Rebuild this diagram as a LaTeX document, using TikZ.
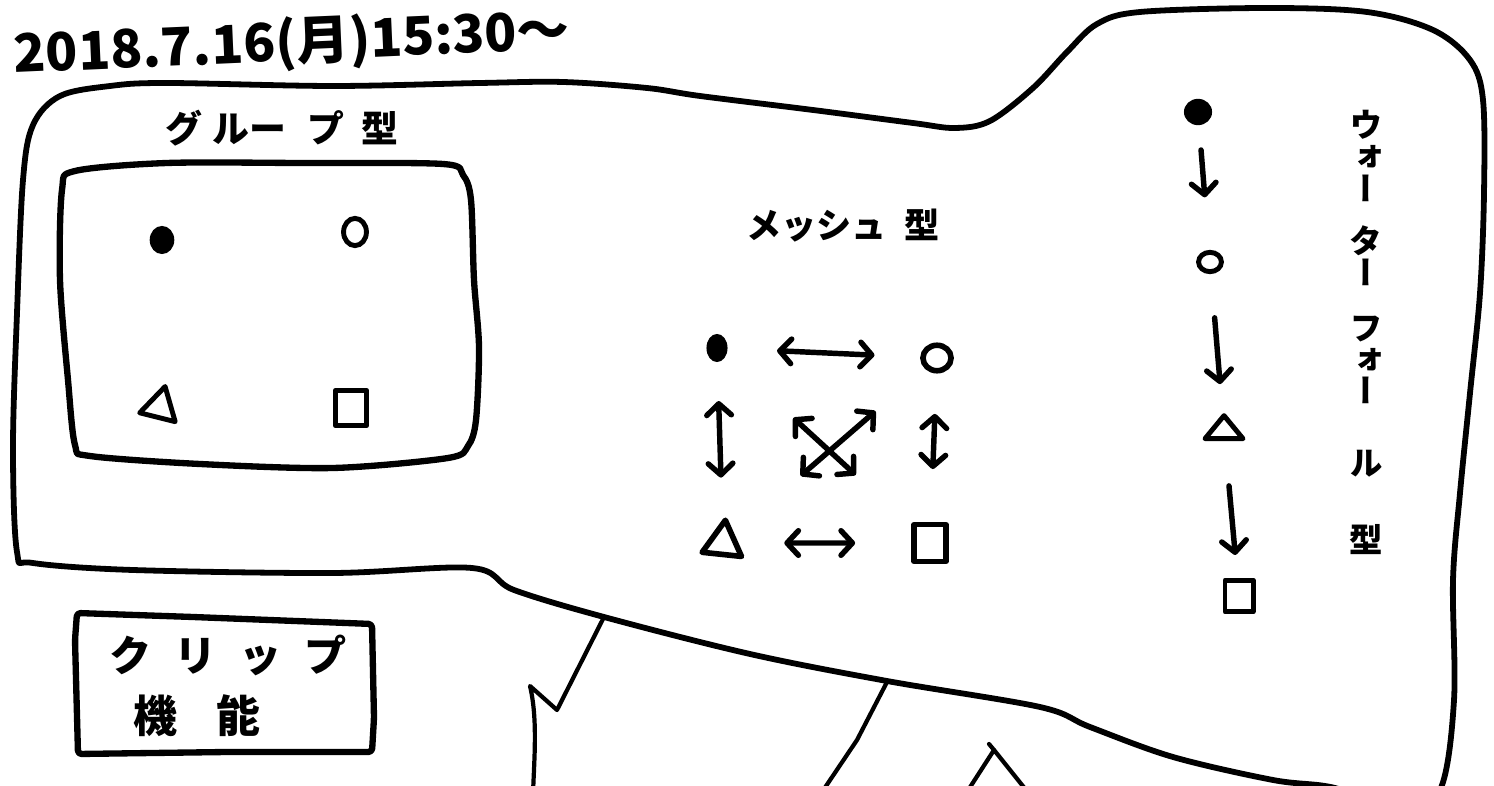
\documentclass[tikz,border=0pt]{standalone}
\usepackage{fontspec}
\usetikzlibrary{shapes.geometric,arrows.meta}
\newfontfamily\jp{Noto Sans CJK JP}
\newfontfamily\jptate[RawFeature=+vert]{Noto Sans CJK JP}

\begin{document}
\begin{tikzpicture}[x=0.02cm, y=-0.02cm,
	>={Straight Barb[length=6.5pt, width=14pt, round]},
	pen/.style={line width=3.3pt, line cap=round, line join=round},
	thinpen/.style={line width=2.4pt, line cap=round, line join=round},
	dotshape/.style={ellipse, fill, inner sep=0pt},
	ringshape/.style={ellipse, draw, line width=2.8pt, inner sep=0pt},
	trishape/.style={regular polygon, regular polygon sides=3, draw, line width=2.8pt, inner sep=0pt, line join=round},
	sqshape/.style={rectangle, draw, line width=2.8pt, inner sep=0pt, line join=round},
	link/.style={line width=3.1pt, line cap=round, <->},
	flow/.style={line width=3.1pt, line cap=round, ->}]
	\useasboundingbox (0,0) rectangle (1494,786);
	\clip (0,0) rectangle (1494,786);
	% date
	\node[font=\jp\bfseries\fontsize{30pt}{30pt}\selectfont, rotate=2.5, inner sep=0pt] (date) at (292,44) {2018.7.16(月)15:30〜};
	% outer outline
	\draw[pen] plot[smooth cycle, tension=0.55] coordinates {(60,96) (110,86) (167,83) (333,86) (480,83) (563,82) (647,88) (700,96) (813,110) (913,123) (955,128) (990,121) (1033,88) (1067,52) (1097,24) (1140,12) (1267,8) (1367,12) (1433,30) (1470,60) (1483,100) (1484,193) (1480,293) (1470,393) (1460,493) (1453,580) (1454,700) (1440,790) (1400,812) (1335,788) (1273,780) (1173,757) (1090,727) (1040,707) (887,681) (750,654) (604,617) (514,590) (472,568) (333,573) (133,570) (33,563) (17,552) (13,447) (17,313) (23,180) (33,125)};
	% legs below the outline
	\draw[thinpen] (604,617) -- (557,710) -- (530,686) .. controls (538,720) and (534,760) .. (533,795);
	\draw[thinpen] (887,682) -- (857,740) -- (820,795);
	\draw[thinpen] (965,795) -- (994,750) -- (1030,795);
	\draw[thinpen] (989,744) -- (994,750);
	% group type
	\node[font=\jp\bfseries\fontsize{21pt}{21pt}\selectfont] (gtitle) at (282,128) {グ\hspace{6pt}ルー\hspace{12pt}プ\hspace{10pt}型};
	\draw[line width=3.6pt, line join=round] plot[smooth cycle, tension=0.5] coordinates {(62,190) (75,171) (167,163) (300,163) (443,164) (463,175) (471,200) (474,280) (479,347) (476,420) (468,446) (448,458) (333,468) (200,464) (90,456) (75,445) (68,380) (60,280)};
	\node[dotshape, minimum width=14pt, minimum height=16pt] (gA) at (162,240) {};
	\node[ringshape, minimum width=13pt, minimum height=15.5pt] (gB) at (355,232) {};
	\node[trishape, minimum size=24pt, rotate=-14] (gC) at (160,407) {};
	\node[sqshape, minimum width=18pt, minimum height=20pt] (gD) at (351,408) {};
	% mesh type
	\node[font=\jp\bfseries\fontsize{20pt}{20pt}\selectfont] (mtitle) at (843,226) {メッシュ\hspace{10pt}型};
	\node[dotshape, minimum width=12pt, minimum height=16pt] (mA) at (717,348) {};
	\node[ringshape, line width=3.2pt, minimum width=16pt, minimum height=14.5pt] (mB) at (937,358) {};
	\node[trishape, line width=3.2pt, minimum size=26pt, rotate=-6] (mC) at (723,543) {};
	\node[sqshape, line width=3.2pt, minimum width=18pt, minimum height=21pt] (mD) at (930,543) {};
	\draw[link, shorten <=28pt, shorten >=26pt] (mA) -- (mB);
	\draw[link, shorten <=22pt, shorten >=24pt] (mA) -- (mC);
	\draw[link, shorten <=23pt, shorten >=30pt] (mB) -- (mD);
	\draw[link, shorten <=26pt, shorten >=32pt] (mC) -- (mD);
	\draw[link, shorten <=52pt, shorten >=43pt] (mA) -- (mD);
	\draw[link, shorten <=50pt, shorten >=37pt] (mC) -- (mB);
	% waterfall type
	\node[dotshape, minimum width=16pt, minimum height=15pt] (wA) at (1198,112) {};
	\node[ringshape, minimum width=13pt, minimum height=11pt] (wB) at (1210,262) {};
	\node[trishape, minimum size=25pt, yscale=0.7, transform shape] (wC) at (1224,431) {};
	\node[sqshape, minimum width=16pt, minimum height=18pt] (wD) at (1239,596) {};
	\draw[flow, shorten <=14pt, shorten >=30pt] (wA) -- (wB);
	\draw[flow, shorten <=25pt, shorten >=17pt] (wB) -- (wC);
	\draw[flow, shorten <=26pt, shorten >=13pt] (wC) -- (wD);
	\foreach \word/\yy [count=\i] in {ウ\\ォ\\ー/156, タ\\ー/256, フ\\ォ\\ー/360, ル/464, 型/540}
		\node[font=\jptate\bfseries\fontsize{19pt}{18pt}\selectfont, align=center, inner sep=0pt] (wf\i) at (1366,\yy) {\word};
	% clip function
	\draw[line width=3.6pt, line join=round, rounded corners=2pt] (77,613) -- (193,617) -- (372,624) -- (374,718) -- (372,752) -- (227,752) -- (78,754) -- (75,640) -- cycle;
	\node[font=\jp\bfseries\fontsize{24pt}{24pt}\selectfont] (clipA) at (228,655) {ク\hspace{13pt}リ\hspace{13pt}ッ\hspace{13pt}プ};
	\node[font=\jp\bfseries\fontsize{25pt}{25pt}\selectfont] (clipB) at (197,716) {機\hspace{22pt}能};
\end{tikzpicture}
\end{document}
